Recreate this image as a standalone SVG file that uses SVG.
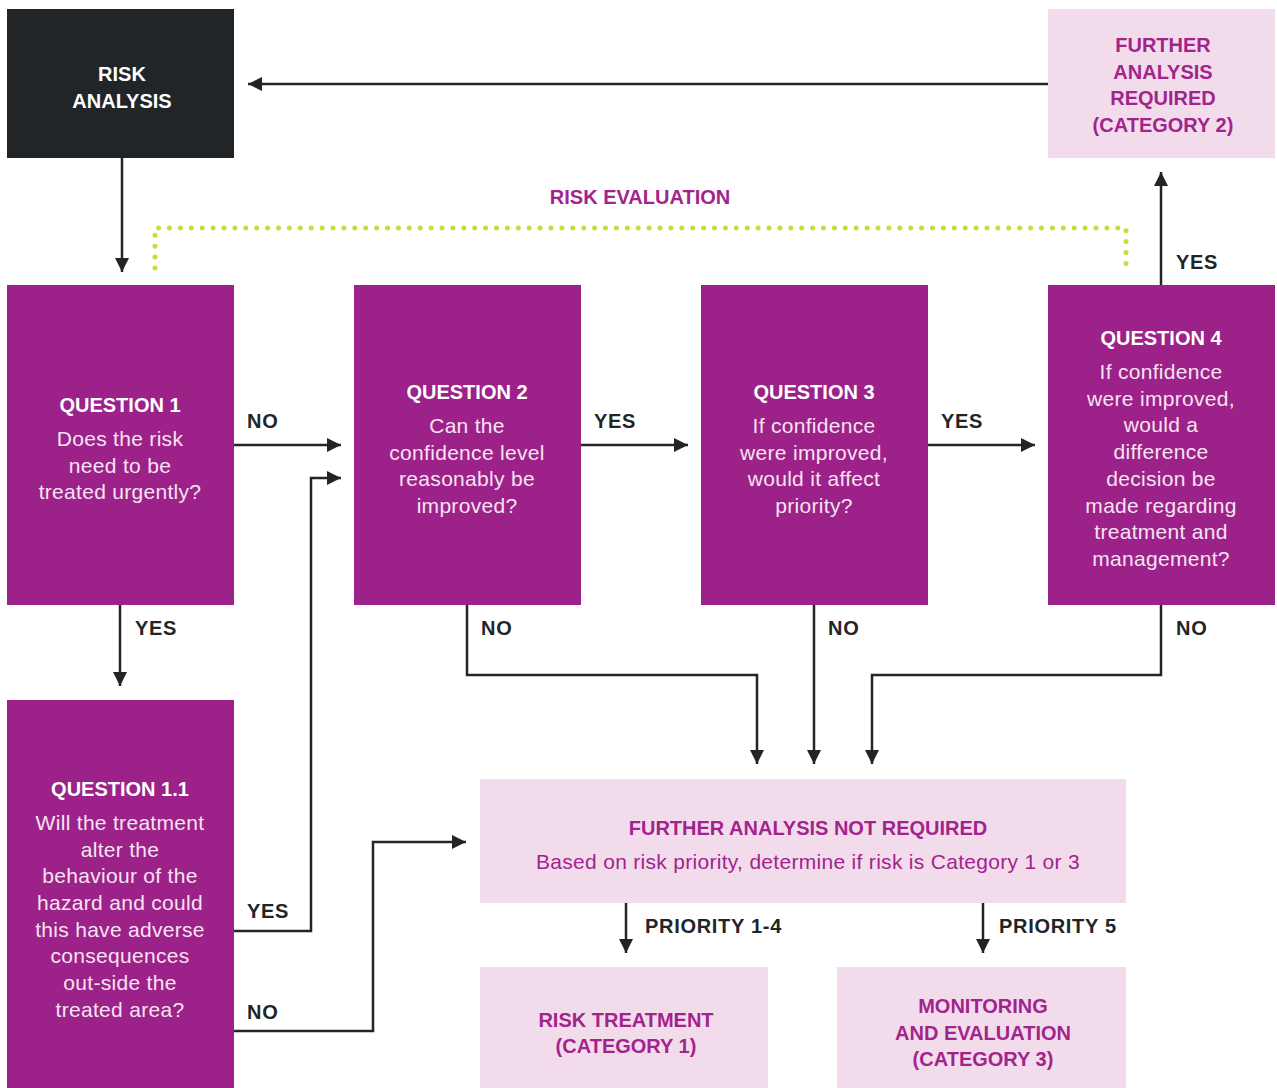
<svg xmlns="http://www.w3.org/2000/svg" width="1277" height="1088" viewBox="0 0 1277 1088">
<defs>
<style>
.q{fill:#9c2289}
.lt{fill:#f2dcec}
.dk{fill:#212527}
text{font-family:"Liberation Sans",Arial,sans-serif;font-size:20px;text-anchor:middle}
.tw{fill:#ffffff;font-weight:bold}
.bw{fill:#f7e3f2;font-size:21px;letter-spacing:0.3px}
.tp{fill:#a3238d;font-weight:bold}
.bp{fill:#a3238d;font-size:21px;letter-spacing:0.3px}
.lb{fill:#212527;font-weight:bold;text-anchor:start;font-size:20px;letter-spacing:0.7px}
.ln{fill:none;stroke:#212527;stroke-width:2.5}
.dot{fill:none;stroke:#c8dc3a;stroke-width:5;stroke-linecap:round;stroke-dasharray:0 10.9}
</style>
<marker id="ah" viewBox="0 0 10 10" refX="10" refY="5" markerWidth="14" markerHeight="14" markerUnits="userSpaceOnUse" orient="auto">
<path d="M0,0 L10,5 L0,10 z" fill="#212527"/>
</marker>
</defs>

<g id="connectors">
<path class="ln" d="M1048,84 H248" marker-end="url(#ah)"/>
<path class="ln" d="M122,158 V272" marker-end="url(#ah)"/>
<path class="ln" d="M234,445 H341" marker-end="url(#ah)"/>
<path class="ln" d="M581,445 H688" marker-end="url(#ah)"/>
<path class="ln" d="M928,445 H1035" marker-end="url(#ah)"/>
<path class="ln" d="M1161,285 V172" marker-end="url(#ah)"/>
<path class="ln" d="M120,605 V686" marker-end="url(#ah)"/>
<path class="ln" d="M467,605 V675 H757 V764" marker-end="url(#ah)"/>
<path class="ln" d="M814,605 V764" marker-end="url(#ah)"/>
<path class="ln" d="M1161,605 V675 H872 V764" marker-end="url(#ah)"/>
<path class="ln" d="M234,931 H311 V478 H341" marker-end="url(#ah)"/>
<path class="ln" d="M234,1031 H373 V842 H466" marker-end="url(#ah)"/>
<path class="ln" d="M626,903 V953" marker-end="url(#ah)"/>
<path class="ln" d="M983,903 V953" marker-end="url(#ah)"/>
<path class="dot" d="M155,268 V228 H1126 V268"/>
<text class="lb" x="247" y="428">NO</text>
<text class="lb" x="594" y="428">YES</text>
<text class="lb" x="941" y="428">YES</text>
<text class="lb" x="1176" y="269">YES</text>
<text class="lb" x="135" y="635">YES</text>
<text class="lb" x="481" y="635">NO</text>
<text class="lb" x="828" y="635">NO</text>
<text class="lb" x="1176" y="635">NO</text>
<text class="lb" x="247" y="918">YES</text>
<text class="lb" x="247" y="1019">NO</text>
<text class="lb" x="645" y="933">PRIORITY 1-4</text>
<text class="lb" x="999" y="933">PRIORITY 5</text>
<text class="tp" x="640" y="204">RISK EVALUATION</text>
</g>

<g id="risk-analysis">
<rect class="dk" x="7" y="9" width="227" height="149"/>
<text class="tw" x="122" y="81">RISK</text>
<text class="tw" x="122" y="108">ANALYSIS</text>
</g>

<g id="further-analysis-required">
<rect class="lt" x="1048" y="9" width="227" height="149"/>
<text class="tp" x="1163" y="52">FURTHER</text>
<text class="tp" x="1163" y="79">ANALYSIS</text>
<text class="tp" x="1163" y="105">REQUIRED</text>
<text class="tp" x="1163" y="132">(CATEGORY 2)</text>
</g>

<g id="question-1">
<rect class="q" x="7" y="285" width="227" height="320"/>
<text class="tw" x="120" y="412">QUESTION 1</text>
<text class="bw" x="120" y="446">Does the risk</text>
<text class="bw" x="120" y="473">need to be</text>
<text class="bw" x="120" y="499">treated urgently?</text>
</g>

<g id="question-2">
<rect class="q" x="354" y="285" width="227" height="320"/>
<text class="tw" x="467" y="399">QUESTION 2</text>
<text class="bw" x="467" y="433">Can the</text>
<text class="bw" x="467" y="460">confidence level</text>
<text class="bw" x="467" y="486">reasonably be</text>
<text class="bw" x="467" y="513">improved?</text>
</g>

<g id="question-3">
<rect class="q" x="701" y="285" width="227" height="320"/>
<text class="tw" x="814" y="399">QUESTION 3</text>
<text class="bw" x="814" y="433">If confidence</text>
<text class="bw" x="814" y="460">were improved,</text>
<text class="bw" x="814" y="486">would it affect</text>
<text class="bw" x="814" y="513">priority?</text>
</g>

<g id="question-4">
<rect class="q" x="1048" y="285" width="227" height="320"/>
<text class="tw" x="1161" y="345">QUESTION 4</text>
<text class="bw" x="1161" y="379">If confidence</text>
<text class="bw" x="1161" y="406">were improved,</text>
<text class="bw" x="1161" y="432">would a</text>
<text class="bw" x="1161" y="459">difference</text>
<text class="bw" x="1161" y="486">decision be</text>
<text class="bw" x="1161" y="513">made regarding</text>
<text class="bw" x="1161" y="539">treatment and</text>
<text class="bw" x="1161" y="566">management?</text>
</g>

<g id="question-1-1">
<rect class="q" x="7" y="700" width="227" height="388"/>
<text class="tw" x="120" y="796">QUESTION 1.1</text>
<text class="bw" x="120" y="830">Will the treatment</text>
<text class="bw" x="120" y="857">alter the</text>
<text class="bw" x="120" y="883">behaviour of the</text>
<text class="bw" x="120" y="910">hazard and could</text>
<text class="bw" x="120" y="937">this have adverse</text>
<text class="bw" x="120" y="963">consequences</text>
<text class="bw" x="120" y="990">out-side the</text>
<text class="bw" x="120" y="1017">treated area?</text>
</g>

<g id="further-analysis-not-required">
<rect class="lt" x="480" y="779" width="646" height="124"/>
<text class="tp" x="808" y="835">FURTHER ANALYSIS NOT REQUIRED</text>
<text class="bp" x="808" y="869">Based on risk priority, determine if risk is Category 1 or 3</text>
</g>

<g id="risk-treatment">
<rect class="lt" x="480" y="967" width="288" height="121"/>
<text class="tp" x="626" y="1027">RISK TREATMENT</text>
<text class="tp" x="626" y="1053">(CATEGORY 1)</text>
</g>

<g id="monitoring-evaluation">
<rect class="lt" x="837" y="967" width="289" height="121"/>
<text class="tp" x="983" y="1013">MONITORING</text>
<text class="tp" x="983" y="1040">AND EVALUATION</text>
<text class="tp" x="983" y="1066">(CATEGORY 3)</text>
</g>
</svg>
